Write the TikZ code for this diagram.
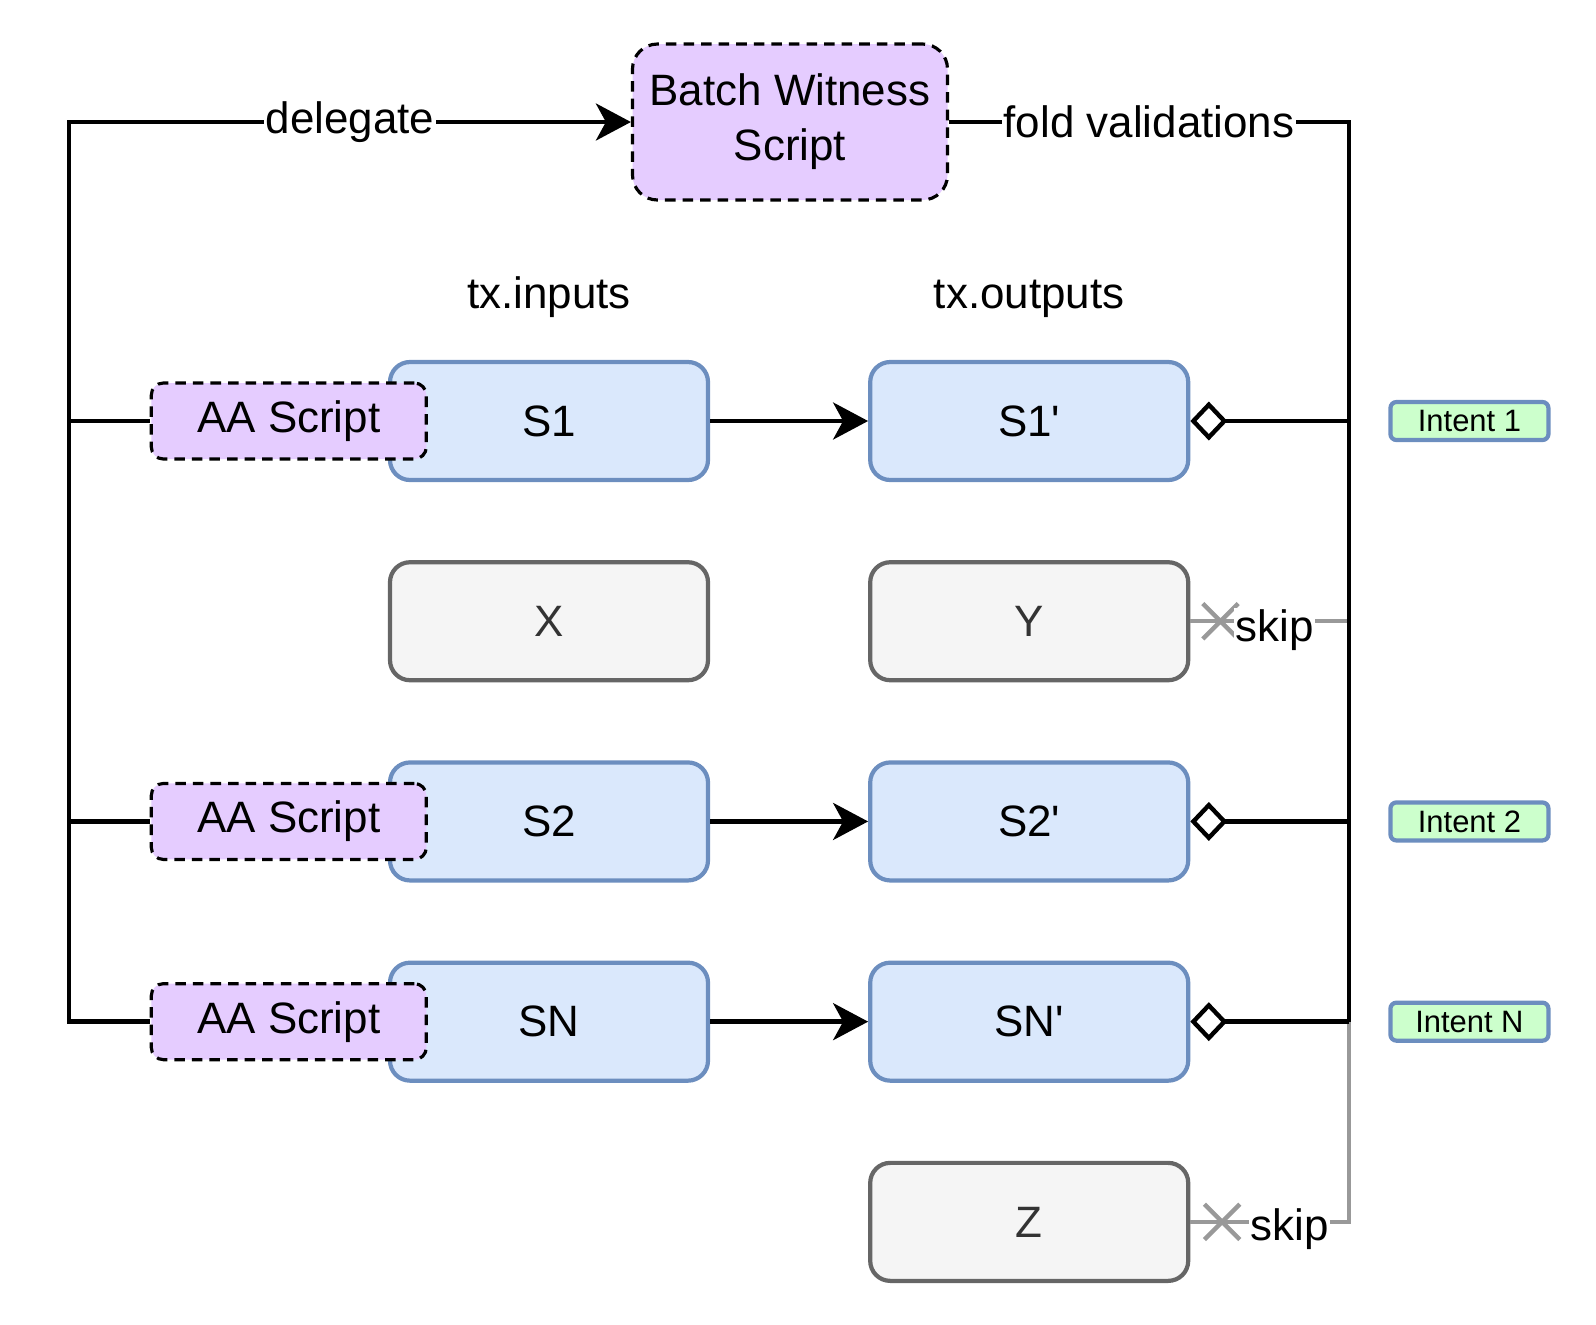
\documentclass[tikz,border=0pt]{standalone}
\usepackage{fontspec}
\setmainfont{Liberation Sans}
\usetikzlibrary{positioning, arrows.meta, calc, shapes.misc}
\definecolor{utxoblue}{HTML}{DAE8FC}
\definecolor{edgeblue}{HTML}{6C8EBF}
\definecolor{othergray}{HTML}{F5F5F5}
\definecolor{edgegray}{HTML}{666666}
\definecolor{scriptpurple}{HTML}{E5CCFF}
\definecolor{intentgreen}{HTML}{CCFFCC}
\definecolor{skipgray}{HTML}{999999}

\begin{document}
\begin{tikzpicture}[
    font=\fontsize{12.5}{15.6}\selectfont,
    utxo/.style={rectangle, rounded corners=0.2cm, draw=edgeblue, fill=utxoblue, line width=1.2pt, minimum width=3.18cm, minimum height=1.18cm, align=center},
    other/.style={utxo, draw=edgegray, fill=othergray, text=black!80},
    aabox/.style={rectangle, rounded corners=0.12cm, draw, dashed, dash pattern=on 3pt off 2pt, line width=0.9pt, fill=scriptpurple, minimum width=2.75cm, minimum height=0.76cm},
    intent/.style={rectangle, rounded corners=0.06cm, draw=edgeblue, fill=intentgreen, line width=1.2pt, minimum width=1.58cm, minimum height=0.38cm, inner sep=1pt, font=\fontsize{8.8}{10}\selectfont},
    lbl/.style={fill=white, inner sep=0.5pt},
    link/.style={line width=1.25pt},
    arrow/.style={-{Stealth[length=3.5mm, width=3.7mm, inset=1mm]}, line width=1.25pt},
    claim/.style={{Diamond[open, length=3.7mm, width=3.9mm]}-, line width=1.25pt},
    skipline/.style={draw=skipgray, line width=1.25pt},
    skipmark/.style={cross out, draw=skipgray, line width=1.25pt, minimum size=0.31cm, inner sep=0pt}
]
\useasboundingbox (0,0) rectangle (15.96,-13.24);

% === BATCH WITNESS ===
\node[aabox, rounded corners=0.25cm, minimum width=3.15cm, minimum height=1.56cm, align=center] (batch) at (7.9,-1.22) {Batch Witness\\ Script};
\coordinate (lbus) at (0.69,-1.22);
\coordinate (rbus) at (13.49,-1.22);

% === INPUTS ===
\node[utxo] (s1) at (5.49,-4.21) {S1};
\node[other, below=0.78cm of s1] (x) {X};
\node[utxo, below=0.78cm of x] (s2) {S2};
\node[utxo, below=0.78cm of s2] (sn) {SN};
\node[above=0.3cm of s1] (txin) {tx.inputs};

% === OUTPUTS ===
\node[utxo, right=1.58cm of s1] (s1o) {S1\textquotesingle};
\node[other, below=0.78cm of s1o] (y) {Y};
\node[utxo, below=0.78cm of y] (s2o) {S2\textquotesingle};
\node[utxo, below=0.78cm of s2o] (sno) {SN\textquotesingle};
\node[other, below=0.78cm of sno] (z) {Z};
\node[above=0.3cm of s1o] (txout) {tx.outputs};

% AA scripts on the inputs
\node[aabox, anchor=east] (aa1) at ([xshift=0.4cm]s1.west) {AA Script};
\node[aabox, anchor=east] (aa2) at ([xshift=0.4cm]s2.west) {AA Script};
\node[aabox, anchor=east] (aa3) at ([xshift=0.4cm]sn.west) {AA Script};

% Intent tags
\node[intent, right=1.98cm of s1o] (int1) {Intent 1};
\node[intent, right=1.98cm of s2o] (int2) {Intent 2};
\node[intent, right=1.98cm of sno] (intn) {Intent N};

% Spends
\draw[arrow] (s1) -- (s1o);
\draw[arrow] (s2) -- (s2o);
\draw[arrow] (sn) -- (sno);

% Delegation bus (left)
\draw[link] (aa1.west) -- (aa1.west -| lbus);
\draw[link] (aa2.west) -- (aa2.west -| lbus);
\draw[arrow] (aa3.west) -| (lbus) -- node[lbl] {delegate} (batch.west);

% Skipped outputs (grey)
\draw[skipline] (y.east) -- node[skipmark, pos=0.19] {} node[lbl, pos=0.53, yshift=-0.09cm] {skip} (y.east -| rbus);
\draw[skipline] (z.east) -- node[skipmark, pos=0.2] {} node[lbl, pos=0.625, yshift=-0.07cm] {skip} (z.east -| rbus) -- (sno.east -| rbus);

% Validation bus (right)
\draw[link] (batch.east) -- node[lbl] {fold validations} (rbus) -- (rbus |- sno.east);
\draw[claim] (s1o.east) -- (s1o.east -| rbus);
\draw[claim] (s2o.east) -- (s2o.east -| rbus);
\draw[claim] (sno.east) -- (sno.east -| rbus);

\end{tikzpicture}
\end{document}
